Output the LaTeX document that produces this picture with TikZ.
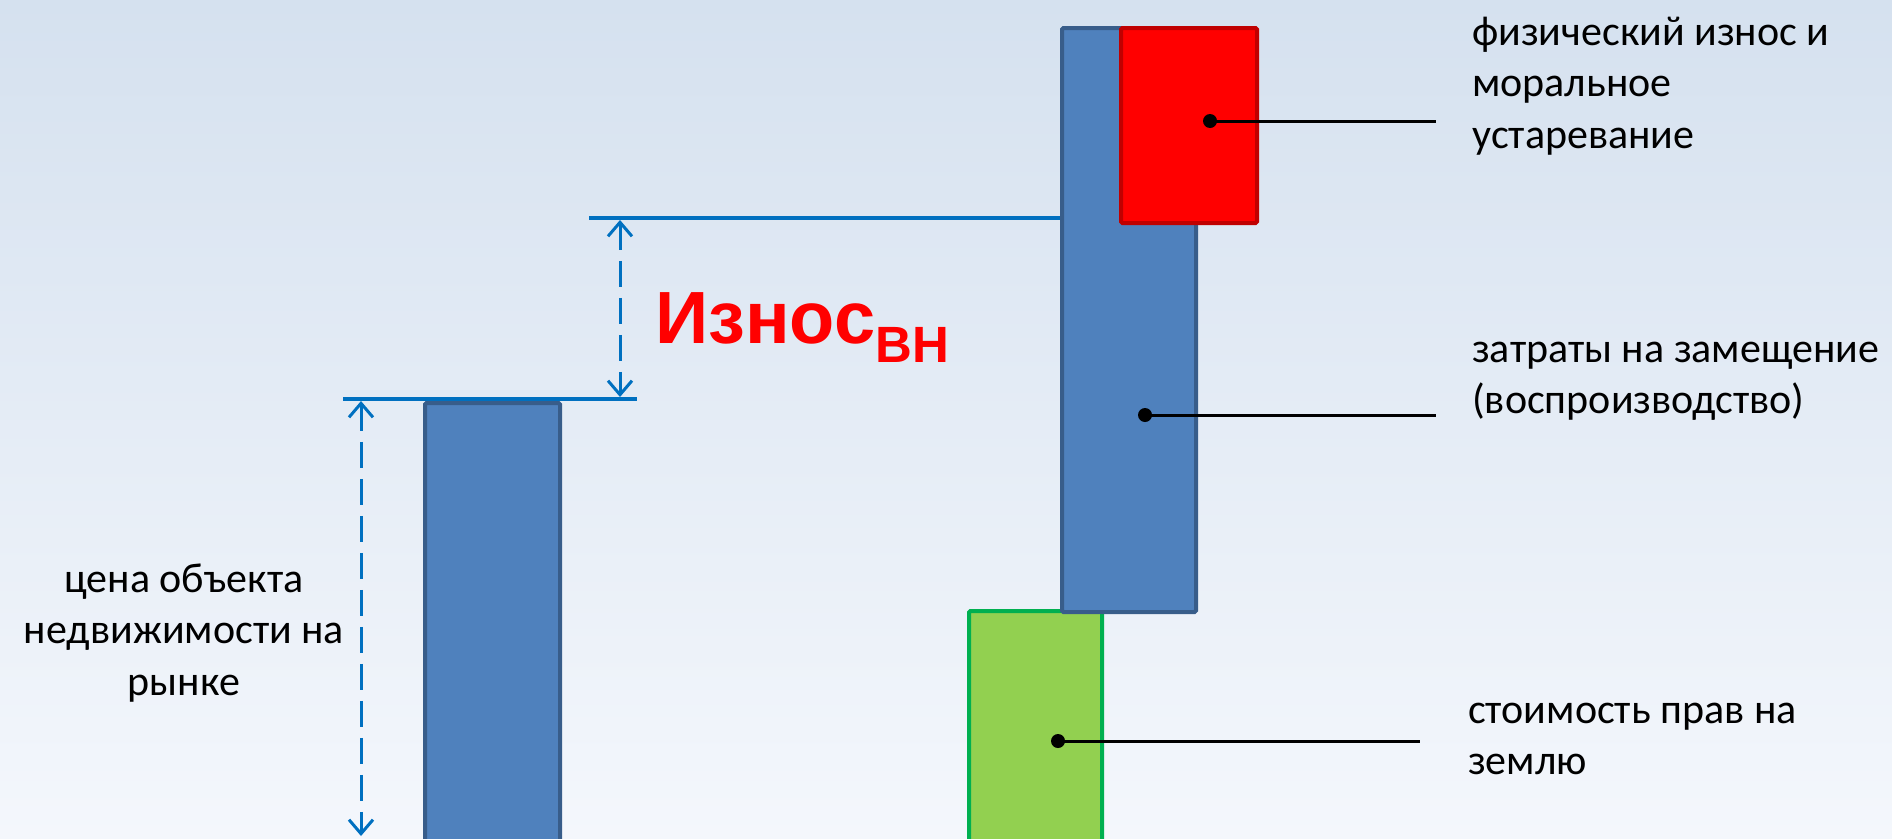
\documentclass[tikz,border=0pt]{standalone}
\usepackage{fontspec}
\setmainfont{Carlito}
\newfontfamily\redfont{Liberation Sans}
\usetikzlibrary{arrows.meta}
\definecolor{bgtop}{RGB}{213,225,239}
\definecolor{bgbot}{RGB}{244,247,252}
\definecolor{barfill}{RGB}{79,129,189}
\definecolor{bardraw}{RGB}{56,93,138}
\definecolor{redfill}{RGB}{255,0,0}
\definecolor{reddraw}{RGB}{192,0,0}
\definecolor{grnfill}{RGB}{146,208,80}
\definecolor{grndraw}{RGB}{0,176,80}
\definecolor{lineblue}{RGB}{0,112,192}
\tikzset{
  box/.style={line width=4pt, inner sep=0pt, anchor=north west, rounded corners=1.5pt},
  bluebar/.style={box, draw=bardraw, fill=barfill},
  redbar/.style={box, draw=reddraw, fill=redfill},
  greenbar/.style={box, draw=grndraw, fill=grnfill},
  level/.style={draw=lineblue, line width=3.5pt},
  dim/.style={draw=lineblue, line width=3pt, dash pattern=on 26pt off 11pt,
    {Straight Barb[length=14pt,width=24pt,line width=3pt]}-{Straight Barb[length=14pt,width=24pt,line width=3pt]}},
  leader/.style={draw=black, line width=3pt},
  dot/.style={fill=black},
  lbl/.style={inner sep=0pt, font=\fontsize{42}{51.5}\selectfont, align=left},
}
\begin{document}
\begin{tikzpicture}[x=1pt,y=-1pt]
\useasboundingbox (0,0) rectangle (1892,838);
\clip (0,0) rectangle (1892,838);
\shade[top color=bgtop, bottom color=bgbot] (0,0) rectangle (1892,838);

% level lines
\coordinate (l1a) at (343,399);
\coordinate (l1b) at (637,399);
\coordinate (l2a) at (589,218);
\coordinate (l2b) at (1060,218);
\draw[level] (l1a) -- (l1b);
\draw[level] (l2a) -- (l2b);

% bars
\node[bluebar, minimum width=135pt, minimum height=470pt] (left) at (423,401) {};
\node[greenbar, minimum width=133pt, minimum height=260pt] (green) at (967,609) {};
\node[bluebar, minimum width=134pt, minimum height=584pt] (tall) at (1060,26) {};
\node[redbar, minimum width=136pt, minimum height=195pt] (red) at (1119,26) {};

% dimension arrows
\coordinate (d1a) at (361,401);
\coordinate (d1b) at (361,836);
\coordinate (d2a) at (620,220);
\coordinate (d2b) at (620,397);
\draw[dim] (d1a) -- (d1b);
\draw[dim] (d2a) -- (d2b);

% leaders
\coordinate (pr) at (1210,121);
\coordinate (er) at (1436,121);
\coordinate (pb) at (1145,415);
\coordinate (eb) at (1436,415);
\coordinate (pg) at (1058,741);
\coordinate (eg) at (1420,741);
\draw[leader] (pr) -- (er);
\draw[leader] (pb) -- (eb);
\draw[leader] (pg) -- (eg);
\fill[dot] (pr) circle (7);
\fill[dot] (pb) circle (7);
\fill[dot] (pg) circle (7);

% labels
\node[lbl, anchor=west] (tred) at (1472,86) {физический износ и\\моральное\\устаревание};
\node[lbl, anchor=west] (tblue) at (1472,381) {затраты на замещение\\(воспроизводство)};
\node[lbl, anchor=west] (tgreen) at (1468,739) {стоимость прав на\\землю};
\node[lbl, align=center] (tleft) at (184,633) {цена объекта\\недвижимости на\\рынке};
\node[inner sep=0pt, anchor=base west, text=redfill, font=\redfont\bfseries\fontsize{74}{80}\selectfont] (wear) at (655,343) {Износ\raisebox{-19pt}{\fontsize{51}{55}\selectfont ВН}};
\end{tikzpicture}
\end{document}
